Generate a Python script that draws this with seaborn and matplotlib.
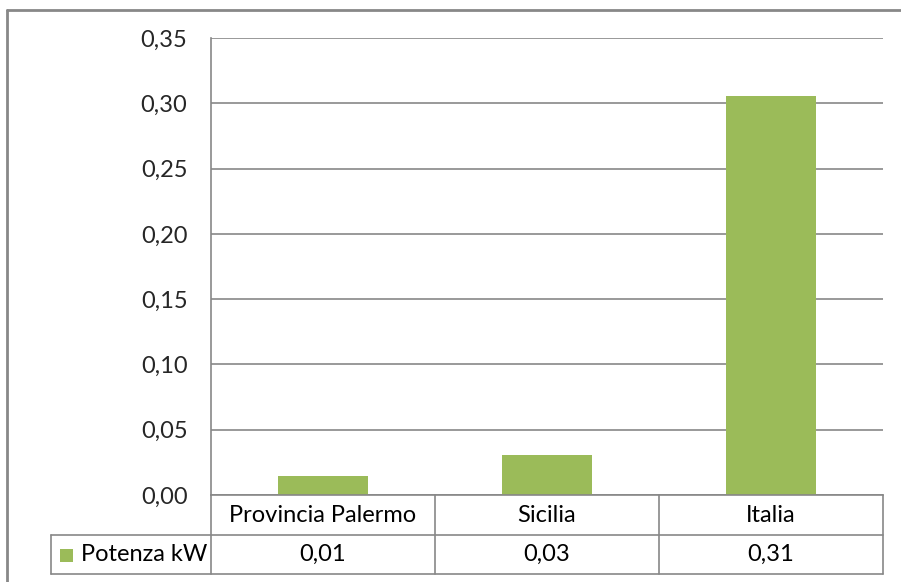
import matplotlib
matplotlib.use("Agg")
import matplotlib.pyplot as plt
import matplotlib.transforms as mtransforms
from matplotlib.lines import Line2D
from matplotlib.patches import Rectangle
import seaborn as sns
import pandas as pd

# Data
categories = ["Provincia Palermo", "Sicilia", "Italia"]
potenza_kw = [0.0146, 0.0306, 0.3052]
series_name = "Potenza kW"
y_ticks = [0.00, 0.05, 0.10, 0.15, 0.20, 0.25, 0.30, 0.35]

BAR_COLOR = "#9BBB59"
LINE_COLOR = "#878787"
FONT = "Lato"
FS = 17

sns.set_theme(style="white")
plt.rcParams["font.family"] = [FONT, "DejaVu Sans"]

W, H = 901, 582
fig = plt.figure(figsize=(W / 100, H / 100), dpi=100)
fig.patch.set_facecolor("white")


def fx(px):
    return px / W


def fy(py):
    return 1 - py / H


left, right, top, bottom = 211, 883, 38, 495
ax = fig.add_axes([fx(left), fy(bottom), fx(right - left), fy(top) - fy(bottom)])

df = pd.DataFrame({"categoria": categories, "valore": potenza_kw})
sns.barplot(data=df, x="categoria", y="valore", color=BAR_COLOR, width=0.4,
            saturation=1, ax=ax, edgecolor="none")

ax.set_xlim(-0.5, len(categories) - 0.5)
ax.set_ylim(0, 0.35)
ax.set_yticks(y_ticks)
ax.set_yticklabels([f"{v:.2f}".replace(".", ",") for v in y_ticks], fontsize=FS)
ax.tick_params(axis="y", length=0, pad=17)
ax.set_xticks([])
ax.set_xlabel("")
ax.set_ylabel("")
ax.yaxis.grid(True, color=LINE_COLOR, linewidth=1.2)
ax.set_axisbelow(True)
for s in ["top", "right"]:
    ax.spines[s].set_visible(False)
ax.spines["left"].set_color(LINE_COLOR)
ax.spines["bottom"].set_color(LINE_COLOR)
ax.spines["left"].set_linewidth(1.2)
ax.spines["bottom"].set_linewidth(1.2)


def hline(x0, x1, y):
    fig.add_artist(Line2D([fx(x0), fx(x1)], [fy(y), fy(y)], color=LINE_COLOR,
                          linewidth=1.2, transform=fig.transFigure))


def vline(x, y0, y1):
    fig.add_artist(Line2D([fx(x), fx(x)], [fy(y0), fy(y1)], color=LINE_COLOR,
                          linewidth=1.2, transform=fig.transFigure))


# Data table under the plot
row1_top, row1_bot, row2_bot = 495, 535, 574
table_left = 51
hline(table_left, right, row1_bot)
hline(table_left, right, row2_bot)
vline(table_left, row1_bot, row2_bot)
vline(left, bottom, row2_bot)
col_w = (right - left) / len(categories)
for i in range(1, len(categories) + 1):
    vline(left + i * col_w, row1_top, row2_bot)

# Category names and values, positioned on the data x scale
blend = mtransforms.blended_transform_factory(ax.transData, fig.transFigure)
for i, (cat, val) in enumerate(zip(categories, potenza_kw)):
    fig.text(i, fy((row1_top + row1_bot) / 2), cat, transform=blend,
             ha="center", va="center", fontsize=FS, color="black")
    fig.text(i, fy((row1_bot + row2_bot) / 2), f"{val:.2f}".replace(".", ","),
             transform=blend, ha="center", va="center", fontsize=FS, color="black")

# Legend key in the table header cell
fig.add_artist(Rectangle((fx(60), fy(562)), fx(13), fy(549) - fy(562),
                         facecolor=BAR_COLOR, edgecolor="none",
                         transform=fig.transFigure))
fig.text(fx(81), fy((row1_bot + row2_bot) / 2), series_name, ha="left",
         va="center", fontsize=FS, color="black")

# Chart frame
fig.add_artist(Line2D([fx(7), fx(7)], [fy(10), 0], color="#888888",
                      linewidth=2, transform=fig.transFigure))
fig.add_artist(Line2D([fx(7), 1], [fy(10), fy(10)], color="#888888",
                      linewidth=2, transform=fig.transFigure))

fig.savefig("out.png", dpi=100)
